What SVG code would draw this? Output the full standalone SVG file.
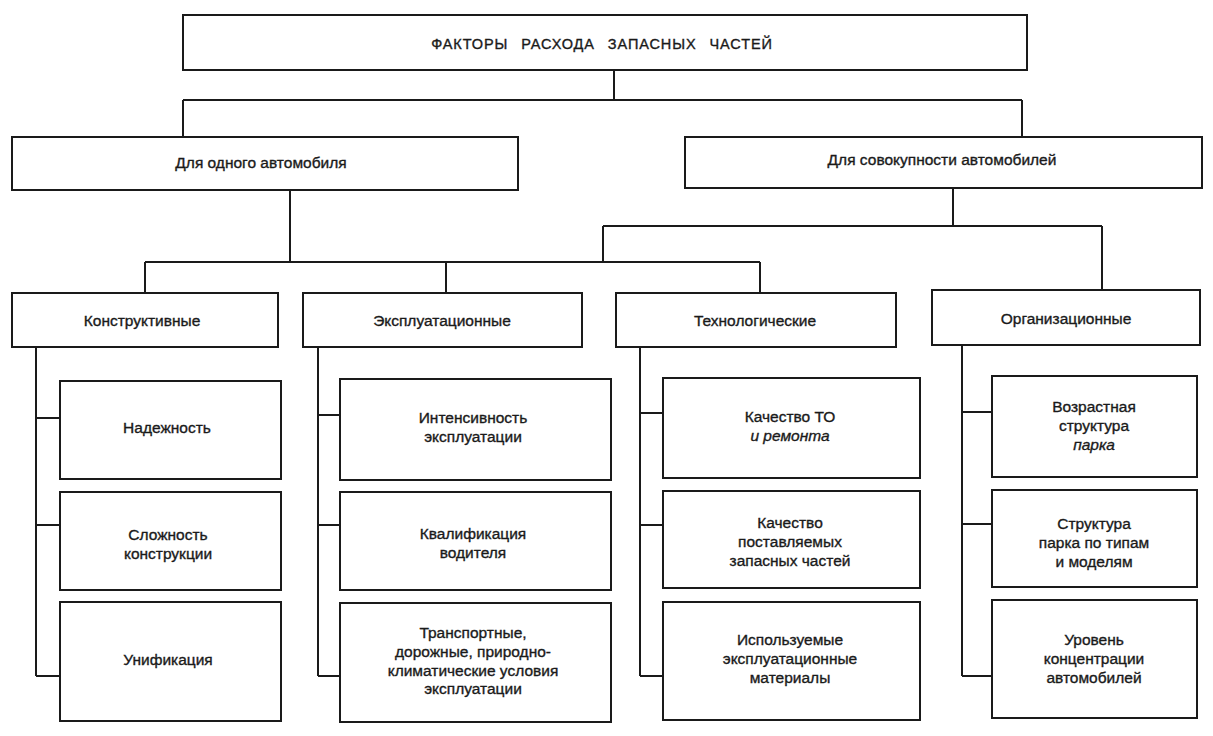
<svg xmlns="http://www.w3.org/2000/svg" width="1213" height="736" viewBox="0 0 1213 736">
<style>
.b{fill:#fff;stroke:#1a1a1a;stroke-width:2}
.c{fill:none;stroke:#1a1a1a;stroke-width:2}
text{font-family:"Liberation Sans",Arial,sans-serif;font-size:15.5px;fill:#1a1a1a;stroke:#1a1a1a;stroke-width:0.35;text-anchor:middle}
.t{font-size:14.5px;letter-spacing:0.9px;word-spacing:8px}
.i{font-style:italic}
</style>
<rect width="1213" height="736" fill="#fff"/>
<g id="connectors">
<path class="c" d="M614 70V100M183 100H1022M183 100V137M1022 100V137"/>
<path class="c" d="M290 190V262M145 262H760M145 262V293M446 262V293M760 262V293"/>
<path class="c" d="M953 188V226M603 226H1102M603 226V262M1102 226V290"/>
<path class="c" d="M36 347V676M36 418H60M36 525H60M36 676H60"/>
<path class="c" d="M318 347V676M318 415H340M318 525H340M318 676H340"/>
<path class="c" d="M640 347V676M640 413H663M640 525H663M640 676H663"/>
<path class="c" d="M962 345V676M962 412H992M962 524H992M962 676H992"/>
</g>
<g id="root"><rect class="b" x="183" y="15" width="844" height="55"/><text class="t" x="602" y="49">ФАКТОРЫ РАСХОДА ЗАПАСНЫХ ЧАСТЕЙ</text></g>
<g id="one"><rect class="b" x="12" y="137" width="506" height="53"/><text x="261" y="168">Для одного автомобиля</text></g>
<g id="many"><rect class="b" x="685" y="137" width="517" height="51"/><text x="942" y="165">Для совокупности автомобилей</text></g>
<g id="konstr"><rect class="b" x="12" y="293" width="266" height="54"/><text x="142" y="326">Конструктивные</text></g>
<g id="expl"><rect class="b" x="303" y="293" width="279" height="54"/><text x="442" y="326">Эксплуатационные</text></g>
<g id="tech"><rect class="b" x="616" y="293" width="280" height="54"/><text x="755" y="326">Технологические</text></g>
<g id="org"><rect class="b" x="932" y="290" width="268" height="55"/><text x="1066" y="324">Организационные</text></g>
<g id="n1"><rect class="b" x="60" y="381" width="221" height="98"/><text x="167" y="433">Надежность</text></g>
<g id="n2"><rect class="b" x="60" y="492" width="221" height="98"/><text x="168" y="540">Сложность</text><text x="168" y="559">конструкции</text></g>
<g id="n3"><rect class="b" x="60" y="602" width="221" height="119"/><text x="168" y="665">Унификация</text></g>
<g id="e1"><rect class="b" x="340" y="379" width="271" height="101"/><text x="473" y="423">Интенсивность</text><text x="473" y="442">эксплуатации</text></g>
<g id="e2"><rect class="b" x="340" y="492" width="271" height="98"/><text x="473" y="539">Квалификация</text><text x="473" y="558">водителя</text></g>
<g id="e3"><rect class="b" x="340" y="603" width="271" height="119"/><text x="473" y="638">Транспортные,</text><text x="473" y="657">дорожные, природно-</text><text x="473" y="676">климатические условия</text><text x="473" y="694">эксплуатации</text></g>
<g id="t1"><rect class="b" x="663" y="378" width="257" height="100"/><text x="790" y="422">Качество ТО</text><text class="i" x="790" y="441">и ремонта</text></g>
<g id="t2"><rect class="b" x="663" y="491" width="257" height="97"/><text x="790" y="528">Качество</text><text x="790" y="547">поставляемых</text><text x="790" y="566">запасных частей</text></g>
<g id="t3"><rect class="b" x="663" y="602" width="257" height="118"/><text x="790" y="645">Используемые</text><text x="790" y="664">эксплуатационные</text><text x="790" y="683">материалы</text></g>
<g id="o1"><rect class="b" x="992" y="376" width="205" height="101"/><text x="1094" y="412">Возрастная</text><text x="1094" y="431">структура</text><text class="i" x="1094" y="450">парка</text></g>
<g id="o2"><rect class="b" x="992" y="490" width="205" height="97"/><text x="1094" y="529">Структура</text><text x="1094" y="548">парка по типам</text><text x="1094" y="567">и моделям</text></g>
<g id="o3"><rect class="b" x="992" y="600" width="205" height="118"/><text x="1094" y="645">Уровень</text><text x="1094" y="664">концентрации</text><text x="1094" y="683">автомобилей</text></g>
</svg>
